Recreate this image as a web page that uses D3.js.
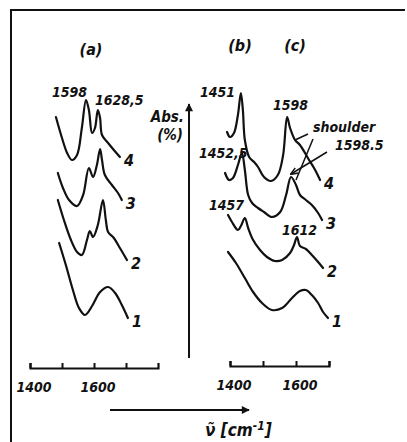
<!DOCTYPE html>
<html>
<head>
<meta charset="utf-8">
<script src="https://cdn.jsdelivr.net/npm/d3@7"></script>
<style>
  body { margin: 0; background: #fff; }
  svg text { font-family: "Liberation Sans Narrow", "DejaVu Sans Condensed", sans-serif; font-style: italic; font-weight: bold; fill: #111; }
</style>
</head>
<body>
<div id="chart"></div>
<script>
// spectra, panel (a): [wavenumber cm-1, absorbance (arb.)]
const a4 = [[1481,21.3],[1500,19.2],[1516,17.7],[1531,17.0],[1547,17.5],[1562,20.2],[1575,23.0],[1584,22.0],[1594,19.7],[1603,20.2],[1612,22.0],[1619,21.2],[1625,19.5],[1644,18.7],[1662,18.0],[1681,17.3]];
const a3 = [[1487,15.7],[1503,14.2],[1522,13.0],[1547,12.4],[1566,13.5],[1584,16.2],[1597,15.3],[1609,16.5],[1619,18.1],[1625,17.0],[1634,15.5],[1656,14.5],[1675,13.7],[1687,13.0]];
const a2 = [[1487,13.0],[1506,11.0],[1528,9.0],[1547,7.8],[1562,7.5],[1578,9.0],[1587,9.9],[1597,9.3],[1612,10.5],[1628,13.0],[1637,11.0],[1644,9.8],[1662,9.2],[1681,8.2],[1703,7.0]];
const a1 = [[1491,8.7],[1512,6.5],[1534,4.0],[1553,2.2],[1572,1.5],[1594,2.4],[1619,3.8],[1644,4.3],[1666,3.7],[1687,2.5],[1706,1.2]];

// spectra, panels (b)+(c)
const b4 = [[1391,19.8],[1400,19.3],[1412,19.7],[1424,21.5],[1433,23.7],[1439,22.0],[1445,19.0],[1458,17.3],[1473,16.8],[1485,16.3],[1503,15.3],[1524,14.9],[1545,15.5],[1561,17.5],[1573,21.3],[1582,20.2],[1597,19.0],[1612,18.5],[1636,17.2],[1658,16.0],[1673,15.0]];
const b3 = [[1385,15.7],[1397,15.0],[1409,15.2],[1424,16.5],[1436,17.7],[1445,16.0],[1455,13.5],[1467,12.7],[1485,12.2],[1503,11.8],[1527,11.3],[1552,11.8],[1570,13.5],[1585,15.3],[1600,14.5],[1612,13.5],[1630,13.0],[1648,12.5],[1667,11.7],[1679,11.0]];
const b2 = [[1394,11.5],[1406,10.8],[1424,10.0],[1433,10.4],[1445,11.2],[1455,10.2],[1470,9.0],[1491,8.0],[1512,7.3],[1536,6.9],[1558,7.0],[1582,7.7],[1594,8.5],[1603,9.3],[1612,8.4],[1630,8.1],[1648,7.5],[1667,6.8],[1682,6.2]];
const b1 = [[1394,7.8],[1418,6.7],[1445,5.2],[1470,3.8],[1497,2.7],[1527,2.0],[1558,2.2],[1588,3.2],[1612,3.9],[1630,4.0],[1648,3.5],[1667,2.7],[1682,1.8],[1697,1.2]];

const curveNames = ["1", "2", "3", "4"];
const tickValsA = [1400, 1500, 1600, 1700];
const tickValsB = [1400, 1500, 1600, 1700];
const tickLabels = [1400, 1600];

const W = 407, H = 442;
const svg = d3.select("#chart").append("svg").attr("width", W).attr("height", H);

const y = d3.scaleLinear().domain([0, 30]).range([330, 30]);
const xA = d3.scaleLinear().domain([1400, 1800]).range([30, 158]);
const xB = d3.scaleLinear().domain([1400, 1700]).range([230, 329]);

// frame (top + left only)
svg.append("path").attr("d", "M11,442 L11,10 L405,10")
  .attr("fill", "none").attr("stroke", "#111").attr("stroke-width", 2);

function drawCurves(x, sets) {
  const line = d3.line().x(d => x(d[0])).y(d => y(d[1])).curve(d3.curveCatmullRom.alpha(0.5));
  svg.append("g").selectAll("path").data(sets).join("path")
    .attr("d", line).attr("fill", "none").attr("stroke", "#111")
    .attr("stroke-width", 2.2).attr("stroke-linecap", "round");
  // curve number next to the last point
  svg.append("g").selectAll("text").data(sets).join("text")
    .attr("x", d => x(d[d.length - 1][0]) + 4)
    .attr("y", d => y(d[d.length - 1][1]) + 9)
    .attr("font-size", 16)
    .text((d, i) => curveNames[i]);
}
drawCurves(xA, [a1, a2, a3, a4]);
drawCurves(xB, [b1, b2, b3, b4]);

// bottom scales
function drawAxis(x, ypos, ticks) {
  const ax = d3.axisBottom(x).tickValues(ticks).tickSize(-5).tickFormat(d => tickLabels.includes(d) ? d : "").tickPadding(14);
  const g = svg.append("g").attr("transform", `translate(0,${ypos})`).call(ax);
  g.select(".domain").attr("stroke", "#111").attr("stroke-width", 2.2);
  g.selectAll(".tick line").attr("stroke", "#111").attr("stroke-width", 2);
  g.selectAll(".tick text").attr("font-size", 14).attr("font-family", null).attr("fill", "#111").attr("dx", "0.25em");
}
drawAxis(xA, 368, tickValsA);
drawAxis(xB, 366, tickValsB);

// arrows
const defs = svg.append("defs");
defs.append("marker").attr("id", "head").attr("viewBox", "0 0 10 10").attr("refX", 9).attr("refY", 5)
  .attr("markerWidth", 5).attr("markerHeight", 4).attr("orient", "auto")
  .append("path").attr("d", "M0,0 L10,5 L0,10 Z").attr("fill", "#111");
defs.append("marker").attr("id", "small").attr("viewBox", "0 0 10 10").attr("refX", 9).attr("refY", 5)
  .attr("markerWidth", 5).attr("markerHeight", 5).attr("orient", "auto")
  .append("path").attr("d", "M0,1 L10,5 L0,9").attr("fill", "none").attr("stroke", "#111").attr("stroke-width", 2);

svg.append("line").attr("x1", 189).attr("y1", 358).attr("x2", 189).attr("y2", 104)
  .attr("stroke", "#111").attr("stroke-width", 2).attr("marker-end", "url(#head)");
svg.append("line").attr("x1", 110).attr("y1", 410).attr("x2", 249).attr("y2", 410)
  .attr("stroke", "#111").attr("stroke-width", 2).attr("marker-end", "url(#head)");

// text labels
const labels = [
  { t: "(a)", x: 91, y: 55, a: "middle", s: 16 },
  { t: "(b)", x: 240, y: 51, a: "middle", s: 16 },
  { t: "(c)", x: 295, y: 51, a: "middle", s: 16 },
  { t: "Abs.", x: 184, y: 122, a: "end", s: 15 },
  { t: "(%)", x: 183, y: 140, a: "end", s: 15 },
  { t: "1598", x: 52, y: 97, a: "start", s: 14 },
  { t: "1628,5", x: 95, y: 105, a: "start", s: 14 },
  { t: "1451", x: 200, y: 97, a: "start", s: 14 },
  { t: "1598", x: 273, y: 110, a: "start", s: 14 },
  { t: "shoulder", x: 313, y: 132, a: "start", s: 14 },
  { t: "1598.5", x: 335, y: 150, a: "start", s: 14 },
  { t: "1452,5", x: 199, y: 158, a: "start", s: 14 },
  { t: "1457", x: 209, y: 210, a: "start", s: 14 },
  { t: "1612", x: 282, y: 235, a: "start", s: 14 }
];
svg.append("g").selectAll("text").data(labels).join("text")
  .attr("x", d => d.x).attr("y", d => d.y).attr("text-anchor", d => d.a)
  .attr("font-size", d => d.s).text(d => d.t);

// pointer lines for shoulder / 1598.5, ending on curves 4 and 3
const pointers = [
  { from: [308, 134], to: [1597, 19.0], arrow: false },
  { from: [313, 139], to: [1600, 15.0], arrow: false },
  { from: [327, 152], to: [1585, 15.6], arrow: true }
];
svg.append("g").selectAll("line").data(pointers).join("line")
  .attr("x1", d => d.from[0]).attr("y1", d => d.from[1])
  .attr("x2", d => xB(d.to[0])).attr("y2", d => y(d.to[1]))
  .attr("stroke", "#111").attr("stroke-width", 1.5)
  .attr("marker-end", d => d.arrow ? "url(#small)" : null);

// wavenumber axis title
const tt = svg.append("text").attr("x", 205).attr("y", 436).attr("font-size", 17);
tt.append("tspan").text("ν̃ [cm");
tt.append("tspan").attr("dy", -6).attr("font-size", 12).text("-1");
tt.append("tspan").attr("dy", 6).text("]");
</script>
</body>
</html>
